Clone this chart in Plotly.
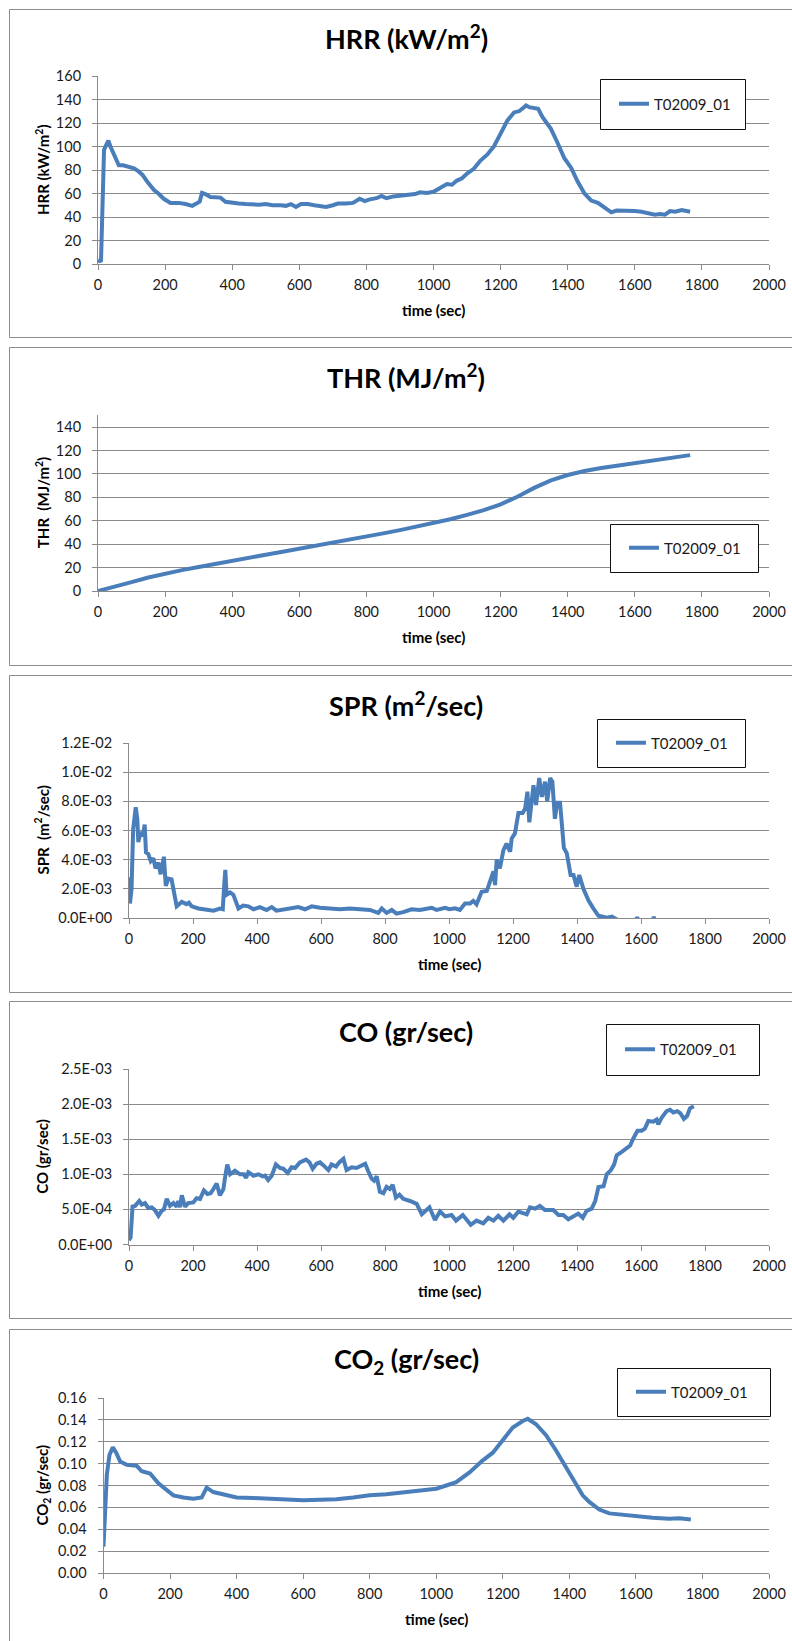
import plotly.graph_objects as go

W, H = 792, 1641
LINE_COLOR = "#4A7EBB"
GRID = "#8a8a8a"
FONT = "Lato"

SERIES_NAME = "T02009_01"

# ---------------- data ----------------
hrr_t = [0, 5, 9, 12, 15, 18, 24, 31, 37, 45, 55, 62, 75, 90, 107, 120, 132, 147, 160, 167, 180, 196, 216, 240,
         261, 281, 296, 303, 310, 320, 335, 350, 365, 380, 400, 420, 440, 460, 480, 500, 520, 545, 560, 575, 590,
         605, 625, 645, 665, 680, 700, 715, 740, 760, 780, 795, 810, 830, 845, 860, 880, 900, 920, 945, 960, 980,
         1000, 1020, 1040, 1055, 1070, 1085, 1100, 1120, 1140, 1160, 1180, 1200, 1220, 1240, 1255, 1268, 1276,
         1285, 1300, 1312, 1325, 1335, 1350, 1370, 1390, 1410, 1430, 1450, 1470, 1490, 1505, 1515, 1530, 1545,
         1570, 1600, 1620, 1640, 1660, 1675, 1690, 1705, 1720, 1740, 1755, 1760, 1765]
hrr_v = [3, 2.5, 3, 40, 80, 97, 101, 105, 100, 95, 87, 84, 84, 82.5, 81.5, 79, 76, 70, 65, 63, 60, 55.5, 52, 52,
         51, 49.5, 52, 53, 60.5, 59.5, 57, 56.5, 56.5, 53, 52, 51.5, 51, 50.5, 50.5, 51, 50, 50, 49.5, 51, 48.5,
         51, 51, 50, 49.5, 48.5, 50, 51.5, 51.5, 52, 55.5, 53.5, 55, 56, 58, 56, 57.5, 58, 58.5, 59.5, 61, 60.5,
         61.5, 65, 68, 67.5, 71, 73, 77, 81, 88, 93, 100, 111, 122, 129, 130, 133, 135,
         133.5, 133, 132, 125, 121, 115, 103, 90, 82, 70, 60, 54, 52, 49, 47, 44, 45.5,
         45.5, 45, 44.5, 43.5, 42, 42.5, 42, 45, 44.5, 46, 45, 44, 44.5]

thr_t = [0, 50, 100, 150, 200, 250, 300, 350, 400, 450, 500, 550, 600, 650, 700, 750, 800, 850, 900, 950, 1000,
         1050, 1100, 1150, 1200, 1250, 1300, 1350, 1400, 1450, 1500, 1550, 1600, 1650, 1700, 1765]
thr_v = [0, 3.5, 7.6, 11.5, 15, 17.8, 20.5, 23.3, 26, 28.6, 31, 33.5, 36, 38.5, 41, 43.7, 46.3, 49.2, 52, 55, 58,
         61.3, 65, 69, 74, 80.5, 88, 94.5, 99, 102.5, 105, 107.2, 109, 111, 113, 116]

spr_t = [0, 3, 8, 13, 21, 26, 29, 36, 43, 49, 53, 60, 68, 76, 83, 92, 99, 105, 109, 115, 123, 133, 141, 149, 165,
         180, 187, 196, 217, 243, 264, 284, 293, 298, 301, 305, 316, 326, 334, 342, 357, 373, 389, 409, 430, 446,
         461, 493, 529, 550, 571, 597, 628, 659, 691, 722, 753, 779, 790, 805, 821, 836, 857, 883, 909, 946, 961,
         988, 1001, 1019, 1034, 1050, 1066, 1076, 1086, 1102, 1118, 1128, 1139, 1144, 1149, 1159, 1170, 1180,
         1191, 1196, 1206, 1217, 1230, 1238, 1245, 1251, 1258, 1264, 1272, 1282, 1290, 1300, 1307, 1316, 1323,
         1331, 1338, 1347, 1359, 1368, 1380, 1389, 1399, 1407, 1420, 1436, 1451, 1467, 1477, 1493, 1509, 1519,
         1540, 1570, 1584, 1588, 1592, 1620, 1636, 1640, 1644, 1680, 1720, 1765]
spr_v = [2.8e-3, 1.0e-3, 2.0e-3, 6.1e-3, 7.6e-3, 6.8e-3, 5.2e-3, 5.9e-3, 5.6e-3, 6.4e-3, 4.5e-3, 4.4e-3, 3.9e-3,
         4.1e-3, 3.4e-3, 3.8e-3, 3.0e-3, 3.8e-3, 4.2e-3, 2.2e-3, 2.7e-3, 2.65e-3, 1.85e-3, 0.8e-3, 1.1e-3,
         0.95e-3, 1.05e-3, 0.8e-3, 0.65e-3, 0.6e-3, 0.5e-3, 0.65e-3, 0.6e-3, 2.4e-3, 3.3e-3, 1.6e-3, 1.75e-3,
         1.6e-3, 1.15e-3, 0.65e-3, 0.85e-3, 0.8e-3, 0.6e-3, 0.75e-3, 0.55e-3, 0.75e-3,
         0.5e-3, 0.65e-3, 0.75e-3, 0.6e-3, 0.8e-3, 0.7e-3, 0.65e-3, 0.6e-3, 0.65e-3, 0.6e-3, 0.55e-3, 0.35e-3,
         0.65e-3, 0.35e-3, 0.55e-3, 0.3e-3, 0.4e-3, 0.6e-3, 0.55e-3, 0.7e-3, 0.55e-3,
         0.7e-3, 0.6e-3, 0.66e-3, 0.55e-3, 1.0e-3, 1.0e-3, 1.17e-3, 0.94e-3, 1.8e-3, 1.85e-3, 2.5e-3, 3.2e-3,
         2.26e-3, 4.0e-3, 3.4e-3, 4.66e-3, 5.1e-3,
         4.55e-3, 5.46e-3, 5.8e-3, 7.2e-3, 7.2e-3, 7.5e-3, 8.66e-3, 6.56e-3, 8.2e-3, 9.1e-3, 7.75e-3, 9.6e-3,
         8.3e-3, 9.35e-3, 8.0e-3, 9.6e-3, 9.35e-3,
         6.8e-3, 7.9e-3, 7.9e-3, 4.8e-3, 4.44e-3, 2.95e-3, 2.95e-3, 2.15e-3, 2.95e-3, 2.0e-3, 1.2e-3, 0.66e-3,
         0.15e-3, 0.1e-3, 0.02e-3, 0.1e-3, 0.0,
         -0.3e-3, -0.3e-3, -0.2e-3, 0.05e-3, -0.2e-3, -0.3e-3, -0.2e-3, 0.08e-3, -0.2e-3, -0.4e-3, -0.4e-3, -0.4e-3]

co_t = [0, 5, 11, 19, 32, 40, 50, 60, 71, 81, 92, 102, 109, 118, 128, 139, 149, 154, 159, 165, 175, 185, 201, 211,
        222, 234, 245, 255, 264, 274, 284, 295, 301, 307, 316, 331, 347, 359, 366, 373, 389, 404, 418, 425, 435,
        446, 459, 472, 482, 496, 508, 519, 534, 553, 564, 574, 586, 597, 607, 623, 633, 647, 657, 670, 680, 696,
        711, 722, 738, 748, 758, 766, 774, 784, 795, 805, 815, 824, 834, 845, 857, 878, 899, 915, 939, 956, 972,
        988, 1008, 1022, 1043, 1068, 1086, 1107, 1123, 1139, 1154, 1170, 1189, 1201, 1217, 1243, 1253, 1269,
        1284, 1300, 1326, 1342, 1357, 1373, 1389, 1404, 1418, 1430, 1446, 1457, 1467, 1483, 1493, 1506, 1516,
        1524, 1540, 1555, 1566, 1576, 1589, 1602, 1612, 1623, 1638, 1649, 1654, 1665, 1680, 1691, 1701, 1713,
        1723, 1734, 1744, 1753, 1765]
co_v = [0.06e-3, 0.1e-3, 0.54e-3, 0.55e-3, 0.62e-3, 0.57e-3, 0.59e-3, 0.52e-3, 0.53e-3, 0.49e-3, 0.41e-3, 0.48e-3,
        0.5e-3, 0.65e-3, 0.55e-3, 0.59e-3, 0.54e-3, 0.62e-3, 0.53e-3, 0.7e-3, 0.54e-3, 0.59e-3, 0.6e-3, 0.66e-3,
        0.65e-3, 0.77e-3, 0.72e-3, 0.73e-3, 0.79e-3, 0.87e-3, 0.7e-3, 0.79e-3, 0.98e-3, 1.14e-3, 1.0e-3, 1.05e-3,
        1.0e-3, 1.0e-3, 0.95e-3, 1.03e-3, 0.98e-3, 1.0e-3, 0.97e-3, 0.98e-3, 0.92e-3,
        0.98e-3, 1.14e-3, 1.09e-3, 1.08e-3, 1.02e-3, 1.1e-3, 1.09e-3, 1.17e-3, 1.21e-3, 1.17e-3, 1.08e-3,
        1.15e-3, 1.17e-3, 1.13e-3, 1.06e-3, 1.14e-3, 1.11e-3, 1.17e-3, 1.22e-3, 1.06e-3, 1.1e-3,
        1.09e-3, 1.11e-3, 1.15e-3, 1.04e-3, 0.94e-3, 0.91e-3, 0.97e-3, 0.75e-3, 0.73e-3, 0.82e-3, 0.79e-3,
        0.85e-3, 0.67e-3, 0.71e-3, 0.65e-3, 0.62e-3, 0.58e-3, 0.43e-3, 0.53e-3, 0.35e-3, 0.47e-3,
        0.4e-3, 0.42e-3, 0.34e-3, 0.42e-3, 0.28e-3, 0.34e-3, 0.3e-3, 0.38e-3, 0.34e-3, 0.41e-3, 0.34e-3,
        0.43e-3, 0.38e-3, 0.47e-3, 0.43e-3, 0.53e-3, 0.51e-3,
        0.55e-3, 0.49e-3, 0.49e-3, 0.42e-3, 0.42e-3, 0.36e-3, 0.41e-3, 0.44e-3, 0.38e-3, 0.48e-3, 0.51e-3,
        0.62e-3, 0.82e-3, 0.83e-3, 1.0e-3, 1.06e-3, 1.14e-3,
        1.27e-3, 1.32e-3, 1.38e-3, 1.41e-3, 1.51e-3, 1.62e-3, 1.62e-3, 1.65e-3, 1.76e-3, 1.75e-3, 1.78e-3,
        1.71e-3, 1.81e-3, 1.9e-3, 1.92e-3, 1.88e-3, 1.9e-3,
        1.87e-3, 1.79e-3, 1.83e-3, 1.94e-3, 1.97e-3]

co2_t = [0, 5, 10, 18, 28, 38, 50, 70, 100, 115, 140, 165, 190, 210, 240, 270, 295, 310, 330, 360, 400, 450, 500,
         560, 600, 650, 700, 750, 800, 850, 900, 950, 1000, 1030, 1060, 1100, 1140, 1170, 1200, 1230, 1260, 1275,
         1300, 1330, 1360, 1390, 1420, 1440, 1460, 1490, 1520, 1560, 1600, 1650, 1700, 1730, 1765]
co2_v = [0.024, 0.06, 0.09, 0.108, 0.115, 0.11, 0.102, 0.099, 0.098, 0.093, 0.091, 0.082, 0.076, 0.071, 0.069,
         0.068, 0.069, 0.078, 0.074, 0.072, 0.069, 0.0685, 0.068, 0.067, 0.0665, 0.067, 0.0675, 0.069, 0.071,
         0.072, 0.0735, 0.075, 0.077, 0.08, 0.083, 0.092, 0.103, 0.11, 0.122, 0.133, 0.139, 0.141, 0.136, 0.126,
         0.112, 0.097, 0.081, 0.071, 0.065, 0.058, 0.0545, 0.053, 0.052, 0.0505, 0.0495, 0.050, 0.049]

x_ticks = [0, 200, 400, 600, 800, 1000, 1200, 1400, 1600, 1800, 2000]
hrr_ticks = [0, 20, 40, 60, 80, 100, 120, 140, 160]
thr_ticks = [0, 20, 40, 60, 80, 100, 120, 140]
spr_ticks = [0, 0.002, 0.004, 0.006, 0.008, 0.010, 0.012]
spr_ticktext = ["0.0E+00", "2.0E-03", "4.0E-03", "6.0E-03", "8.0E-03", "1.0E-02", "1.2E-02"]
co_ticks = [0, 0.0005, 0.0010, 0.0015, 0.0020, 0.0025]
co_ticktext = ["0.0E+00", "5.0E-04", "1.0E-03", "1.5E-03", "2.0E-03", "2.5E-03"]
co2_ticks = [0, 0.02, 0.04, 0.06, 0.08, 0.10, 0.12, 0.14, 0.16]
co2_ticktext = ["0.00", "0.02", "0.04", "0.06", "0.08", "0.10", "0.12", "0.14", "0.16"]

titles = ["HRR (kW/m<sup>2</sup>)", "THR (MJ/m<sup>2</sup>)", "SPR (m<sup>2</sup>/sec)", "CO (gr/sec)",
          "CO<sub>2</sub> (gr/sec)"]
ytitles = ["HRR (kW/m<sup>2</sup>)", "THR  (MJ/m<sup>2</sup>)", "SPR  (m<sup>2</sup>/sec)", "CO (gr/sec)",
           "CO<sub>2</sub> (gr/sec)"]
xtitle = "time (sec)"

# ---------------- layout geometry (page pixels) ----------------
def px(x):
    return x / W

def py(y):
    return 1 - y / H

panels = [
    dict(l=98, r=769, t=76, b=264, yr=[0, 160], bt=9, bb=337, ty=37, lg=(600, 745, 79, 129)),
    dict(l=98, r=769, t=415.3, b=591, yr=[0, 150], bt=347, bb=665, ty=376, lg=(610, 758, 524, 572)),
    dict(l=129, r=769, t=743, b=918, yr=[0, 0.012], bt=675, bb=992, ty=704, lg=(597, 745, 719, 767)),
    dict(l=129, r=769, t=1069, b=1244.5, yr=[0, 0.0025], bt=1001, bb=1318, ty=1031, lg=(606, 759, 1024, 1075)),
    dict(l=103.5, r=769, t=1398, b=1573, yr=[0, 0.16], bt=1329, bb=1680, ty=1360, lg=(617, 770, 1368, 1416)),
]

ytick_sets = [
    (hrr_ticks, [str(v) for v in hrr_ticks]),
    (thr_ticks, [str(v) for v in thr_ticks]),
    (spr_ticks, spr_ticktext),
    (co_ticks, co_ticktext),
    (co2_ticks, co2_ticktext),
]
data = [(hrr_t, hrr_v), (thr_t, thr_v), (spr_t, spr_v), (co_t, co_v), (co2_t, co2_v)]

fig = go.Figure()
layout = dict(
    width=W, height=H, margin=dict(l=0, r=0, t=0, b=0, pad=0, autoexpand=False),
    paper_bgcolor="white", plot_bgcolor="white",
    font=dict(family=FONT, size=14.5, color="#1a1a1a"),
    showlegend=True,
)
shapes = []
annotations = []

for i, (p, (tt, vv), (tv, tx)) in enumerate(zip(panels, data, ytick_sets)):
    n = "" if i == 0 else str(i + 1)
    lgname = "legend" + n
    fig.add_trace(go.Scatter(
        x=tt, y=vv, mode="lines", name=SERIES_NAME,
        line=dict(color=LINE_COLOR, width=4),
        xaxis="x" + n, yaxis="y" + n, legend=lgname,
    ))
    layout["xaxis" + n] = dict(
        domain=[px(p["l"]), px(p["r"])], anchor="y" + n, range=[0, 2000], automargin=False,
        tickvals=x_ticks, ticktext=[str(v) for v in x_ticks],
        showgrid=False, zeroline=False, showline=True, linecolor=GRID, linewidth=1,
        ticks="outside", ticklen=5, tickcolor=GRID, tickwidth=1, ticklabeloverflow="allow",
        tickfont=dict(family=FONT, size=14.5, color="#1a1a1a"), ticklabelstandoff=3,
    )
    layout["yaxis" + n] = dict(
        domain=[py(p["b"]), py(p["t"])], anchor="x" + n, range=p["yr"], automargin=False,
        tickvals=tv, ticktext=tx,
        showgrid=True, gridcolor=GRID, gridwidth=1, zeroline=False,
        showline=True, linecolor=GRID, linewidth=1, ticklabeloverflow="allow",
        ticks="outside", ticklen=5, tickcolor=GRID, tickwidth=1,
        tickfont=dict(family=FONT, size=14.5, color="#1a1a1a"), ticklabelstandoff=8,
    )
    shapes.append(dict(type="rect", xref="paper", yref="paper", x0=px(9.5), x1=px(830),
                       y0=py(p["bb"] + 0.5), y1=py(p["bt"] + 0.5),
                       line=dict(color="#8c8c8c", width=1), fillcolor="rgba(0,0,0,0)", layer="below"))
    lx0, lx1, ly0, ly1 = p["lg"]
    shapes.append(dict(type="rect", xref="paper", yref="paper", x0=px(lx0 + 0.5), x1=px(lx1 + 0.5),
                       y0=py(ly1 + 0.5), y1=py(ly0 + 0.5),
                       line=dict(color="#111111", width=1), fillcolor="white", layer="above"))
    layout[lgname] = dict(
        x=px(lx0 + 14), y=py((ly0 + ly1) / 2), xanchor="left", yanchor="middle",
        bgcolor="rgba(0,0,0,0)", borderwidth=0,
        font=dict(family=FONT, size=15, color="#1a1a1a"), itemwidth=30,
    )
    annotations.append(dict(text="<b>" + titles[i] + "</b>", xref="paper", yref="paper",
                            x=px(406), y=py(p["ty"]), xanchor="center", yanchor="middle",
                            showarrow=False, font=dict(family=FONT, size=27, color="#000000")))
    annotations.append(dict(text="<b>" + ytitles[i] + "</b>", xref="paper", yref="paper",
                            x=px(42), y=py((p["t"] + p["b"]) / 2), xanchor="center", yanchor="middle",
                            textangle=-90, showarrow=False,
                            font=dict(family=FONT, size=15, color="#000000")))
    annotations.append(dict(text="<b>" + xtitle + "</b>", xref="paper", yref="paper",
                            x=px((p["l"] + p["r"]) / 2), y=py(p["b"] + 46), xanchor="center",
                            yanchor="middle", showarrow=False,
                            font=dict(family=FONT, size=15, color="#000000")))

layout["shapes"] = shapes
layout["annotations"] = annotations
fig.update_layout(**layout)

page_css = ("document.body.style.margin='0';document.body.style.padding='0';"
            "document.body.style.overflow='hidden';"
            "document.documentElement.style.overflow='hidden';")
fig.write_html("out.html", config={"displayModeBar": False}, post_script=page_css)
